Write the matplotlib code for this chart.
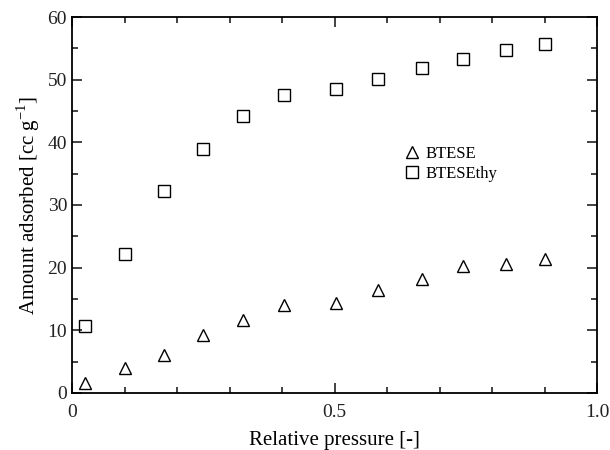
import matplotlib
matplotlib.use("Agg")
import matplotlib.pyplot as plt
from matplotlib.ticker import MultipleLocator, FixedFormatter, FixedLocator

plt.rcParams['font.family'] = ['Liberation Serif', 'DejaVu Serif']

# data
p_rel = [0.025, 0.1, 0.175, 0.25, 0.325, 0.403, 0.503, 0.583, 0.667, 0.745, 0.826, 0.901]
btese = [1.5, 4.0, 6.0, 9.3, 11.6, 14.0, 14.3, 16.4, 18.1, 20.3, 20.5, 21.4]
btese_thy = [10.6, 22.2, 32.3, 39.0, 44.2, 47.6, 48.5, 50.1, 51.9, 53.3, 54.8, 55.7]

fig = plt.figure(figsize=(6.1, 4.5), dpi=100)
ax = fig.add_axes([0.118, 0.127, 0.861, 0.835])

ax.plot(p_rel, btese, '^', ms=9, mfc='none', mec='black', mew=1.0, ls='none', label='BTESE')
ax.plot(p_rel, btese_thy, 's', ms=9, mfc='none', mec='black', mew=1.0, ls='none', label='BTESEthy')

ax.set_xlim(0, 1)
ax.set_ylim(0, 60)
ax.xaxis.set_major_locator(FixedLocator([0, 0.5, 1.0]))
ax.xaxis.set_major_formatter(FixedFormatter(['0', '0.5', '1.0']))
ax.xaxis.set_minor_locator(MultipleLocator(0.1))
ax.yaxis.set_major_locator(MultipleLocator(10))
ax.yaxis.set_minor_locator(MultipleLocator(5))
ax.tick_params(which='both', direction='in', top=True, right=True, labelsize=14, width=1.2, colors='#222222')
ax.tick_params(which='major', length=7)
ax.tick_params(which='minor', length=4)
ax.tick_params(axis='x', pad=8)
for s in ax.spines.values():
    s.set_linewidth(1.3)

ax.set_xlabel('Relative pressure [-]', fontsize=15, labelpad=7)
ax.set_ylabel('Amount adsorbed [cc g$^{\\mathregular{-1}}$]', fontsize=15)

ax.legend(loc='upper left', bbox_to_anchor=(0.6, 0.697), frameon=False, fontsize=12,
          handletextpad=0.2, handlelength=1.2, labelspacing=0.25)

fig.savefig('out.png', dpi=100)
